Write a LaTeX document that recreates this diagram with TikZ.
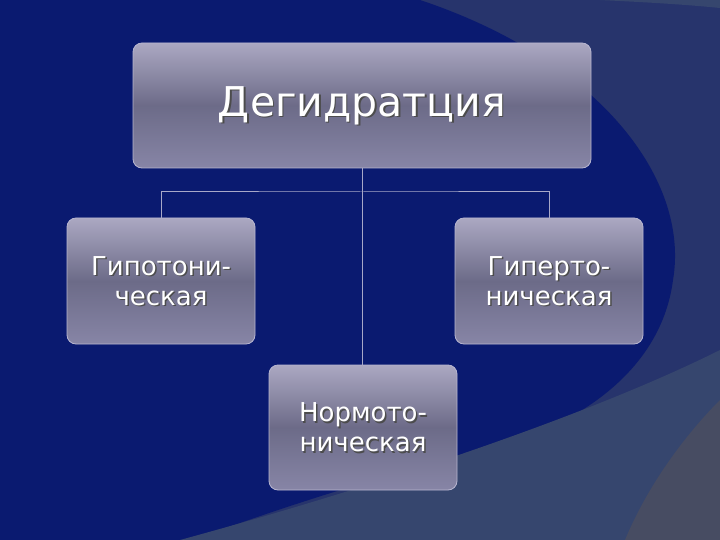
\documentclass[tikz,border=0pt]{standalone}
\usepackage{fontspec}
\setmainfont{DejaVu Sans}
\begin{document}
\begin{tikzpicture}[x=1pt,y=-1pt,
  box/.style={rounded corners=9pt, draw=boxedge, line width=0.8pt,
    top color=boxtop, bottom color=boxbot, middle color=boxmid,
    align=center, text=white, inner sep=0pt},
  conn/.style={draw=lineclr, line width=1pt}]
\definecolor{bgdark}{HTML}{0A1A70}
\definecolor{bgout}{HTML}{27346C}
\definecolor{bgband}{HTML}{36466E}
\definecolor{bggray}{HTML}{474C62}
\definecolor{boxtop}{HTML}{ABA8C2}
\definecolor{boxmid}{HTML}{6C6B88}
\definecolor{boxbot}{HTML}{8785A6}
\definecolor{boxedge}{HTML}{B8B6D0}
\definecolor{lineclr}{HTML}{A8A8C8}
\useasboundingbox (0,0) rectangle (720,540);
\fill[bgout] (0,0) rectangle (720,540);
\fill[bgdark] (0,0) -- (420,0) .. controls (600,60) and (690,180) .. (673,280)
  .. controls (660,380) and (560,440) .. (440,462)
  .. controls (330,490) and (250,520) .. (190,540) -- (0,540) -- cycle;
\fill[bgband] (180,540) .. controls (400,480) and (600,410) .. (720,350) -- (720,540) -- cycle;
\fill[bggray] (625,540) .. controls (650,480) and (690,430) .. (720,400) -- (720,540) -- cycle;
\fill[bgband] (600,0) -- (720,0) -- (720,8) .. controls (680,4) and (640,2) .. (600,0) -- cycle;
\node[box, minimum width=458pt, minimum height=125pt] (top) at (362,105.5) {};
\node[box, minimum width=188pt, minimum height=126pt] (left) at (161,281) {};
\node[box, minimum width=188pt, minimum height=126pt] (right) at (549,281) {};
\node[box, minimum width=188pt, minimum height=125pt] (bot) at (363,427.5) {};
\foreach \n/\t/\s/\b in {top/Дегидратция/41/46, left/{Гипотони-\\ческая}/26/30, right/{Гиперто-\\ническая}/26/30, bot/{Нормото-\\ническая}/26/30}{
  \node[text=black!70, align=center, font=\fontsize{\s}{\b}\selectfont] at ([xshift=1.5pt,yshift=-1.5pt]\n.center) {\t};
  \node[text=white, align=center, font=\fontsize{\s}{\b}\selectfont] at (\n.center) {\t};
}
\coordinate (j) at (362,192);
\draw[conn] (top.south -| j) -- (j);
\draw[conn] (left.north) |- (j) -| (right.north);
\draw[conn] (j) -- (j |- bot.north);
\end{tikzpicture}
\end{document}
